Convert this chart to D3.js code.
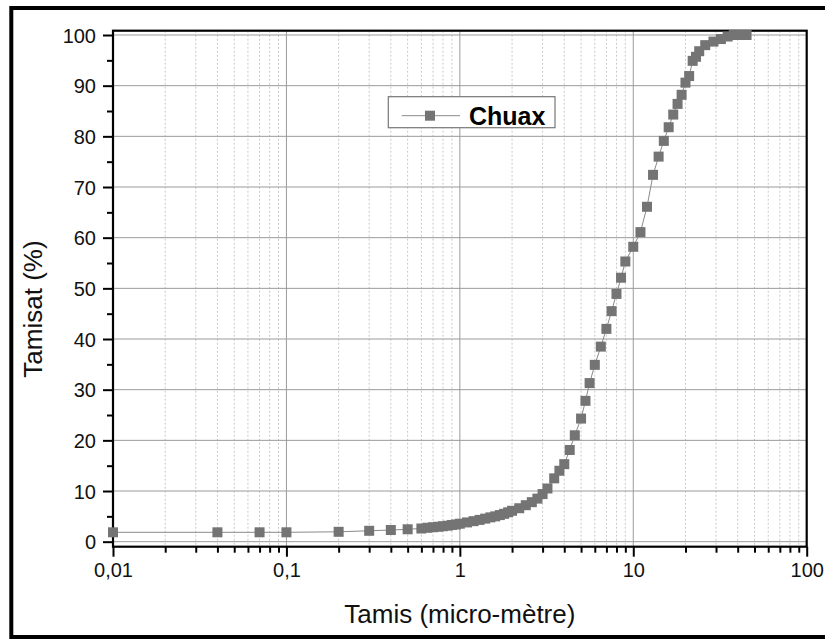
<!DOCTYPE html>
<html>
<head>
<meta charset="utf-8">
<script src="https://cdn.jsdelivr.net/npm/d3@7"></script>
<style>
  body { margin: 0; background: #fff; }
  svg { display: block; font-family: "Liberation Sans", Arial, sans-serif; }
</style>
</head>
<body>
<div id="chart"></div>
<script>
// particle size (micro-metre) and cumulative passing (%)
const tamis = [0.01, 0.04, 0.07, 0.1, 0.2, 0.3, 0.4, 0.5, 0.6,
  0.65, 0.7, 0.75, 0.8, 0.85, 0.9, 0.95, 1.0,
  1.1, 1.2, 1.3, 1.4, 1.5, 1.6, 1.7, 1.8, 1.9, 2.0,
  2.2, 2.4, 2.6, 2.8, 3.0, 3.2, 3.5, 3.75, 4.0,
  4.3, 4.6, 5.0, 5.3, 5.6, 6.0, 6.5, 7.0, 7.5, 8.0, 8.5, 9.0,
  10, 11, 12, 13, 14, 15, 16, 17, 18, 19, 20, 21, 22, 23, 24,
  26, 29, 32, 35, 38, 41, 45];
const tamisat = [1.85, 1.85, 1.85, 1.85, 1.95, 2.15, 2.3, 2.45, 2.6,
  2.75, 2.85, 2.95, 3.05, 3.15, 3.3, 3.4, 3.55,
  3.8, 4.05, 4.3, 4.55, 4.8, 5.0, 5.25, 5.5, 5.8, 6.1,
  6.6, 7.2, 7.8, 8.5, 9.4, 10.5, 12.5, 14.0, 15.3,
  18.1, 21.0, 24.3, 27.8, 31.3, 34.9, 38.5, 42.0, 45.5, 48.9, 52.1, 55.3,
  58.2, 61.1, 66.1, 72.4, 76.0, 79.1, 81.8, 84.3, 86.4, 88.2, 90.6, 91.9, 94.9, 95.7, 96.8,
  98.0, 98.7, 99.2, 99.7, 100, 100, 100];

const xMajor = [0.01, 0.1, 1, 10, 100];
const xLabels = ["0,01", "0,1", "1", "10", "100"];
const yMajor = [0, 10, 20, 30, 40, 50, 60, 70, 80, 90, 100];
const yMinor = [5, 15, 25, 35, 45, 55, 65, 75, 85, 95];
const serieName = "Chuax";

const W = 825, H = 639;
const pLeft = 113, pTop = 30.7, pRight = 806.7, pBottom = 546.7;

const svg = d3.select("#chart").append("svg")
  .attr("width", W).attr("height", H);

// outer frame
svg.append("rect")
  .attr("x", 11.3).attr("y", 8)
  .attr("width", 830).attr("height", 629)
  .attr("fill", "none").attr("stroke", "#000").attr("stroke-width", 4);

const x = d3.scaleLog([0.01, 100], [pLeft, pRight]);
const y = d3.scaleLinear([-0.99, 100.85], [pBottom, pTop]);

const xMinor = [];
[0.01, 0.1, 1, 10].forEach((d) => {
  for (let k = 2; k <= 9; k++) xMinor.push(d * k);
});

const grid = svg.append("g");
grid.selectAll("line.minx")
  .data(xMinor)
  .join("line")
  .attr("x1", (d) => x(d)).attr("x2", (d) => x(d))
  .attr("y1", pTop).attr("y2", pBottom)
  .attr("stroke", "#c8c8c8").attr("stroke-dasharray", "2,2");
grid.selectAll("line.majx")
  .data(xMajor.slice(1, -1))
  .join("line")
  .attr("x1", (d) => x(d)).attr("x2", (d) => x(d))
  .attr("y1", pTop).attr("y2", pBottom)
  .attr("stroke", "#9a9a9a");
grid.selectAll("line.majy")
  .data(yMajor)
  .join("line")
  .attr("x1", pLeft).attr("x2", pRight)
  .attr("y1", (d) => y(d)).attr("y2", (d) => y(d))
  .attr("stroke", "#9a9a9a");

// axes
const xAxis = svg.append("g")
  .attr("transform", `translate(0,${pBottom})`)
  .call(d3.axisBottom(x).tickValues(xMajor).tickFormat((d, i) => xLabels[i])
    .tickSize(10).tickPadding(6));
svg.append("g")
  .attr("transform", `translate(0,${pBottom})`)
  .call(d3.axisBottom(x).tickValues(xMinor).tickFormat("").tickSize(6));

const yAxis = svg.append("g")
  .attr("transform", `translate(${pLeft},0)`)
  .call(d3.axisLeft(y).tickValues(yMajor).tickSize(10).tickPadding(7));
svg.append("g")
  .attr("transform", `translate(${pLeft},0)`)
  .call(d3.axisLeft(y).tickValues(yMinor).tickFormat("").tickSize(6));

svg.selectAll(".tick line").attr("stroke", "#000").attr("stroke-width", 2);
svg.selectAll(".domain").remove();
xAxis.selectAll("text").attr("font-size", 20).attr("fill", "#111")
  .attr("font-family", "Liberation Sans, Arial, sans-serif");
yAxis.selectAll("text").attr("font-size", 20).attr("fill", "#111")
  .attr("font-family", "Liberation Sans, Arial, sans-serif")
  .attr("dy", "0.36em");

// plot box
svg.append("rect")
  .attr("x", pLeft).attr("y", pTop)
  .attr("width", pRight - pLeft).attr("height", pBottom - pTop)
  .attr("fill", "none").attr("stroke", "#000").attr("stroke-width", 2.2);

// data
const pts = tamis.map((d, i) => ({ x: d, y: tamisat[i] }));
const plot = svg.append("g");
plot.append("path")
  .datum(pts)
  .attr("d", d3.line().x((d) => x(d.x)).y((d) => y(d.y)))
  .attr("fill", "none").attr("stroke", "#8a8a8a").attr("stroke-width", 1);
const s = 10;
plot.selectAll("rect.pt")
  .data(pts)
  .join("rect")
  .attr("x", (d) => x(d.x) - s / 2)
  .attr("y", (d) => y(d.y) - s / 2)
  .attr("width", s).attr("height", s)
  .attr("fill", "#747474");

// legend
const lg = svg.append("g");
lg.append("rect")
  .attr("x", 388.3).attr("y", 96.7).attr("width", 166.7).attr("height", 31)
  .attr("fill", "#fff").attr("stroke", "#777").attr("stroke-width", 1.2);
lg.append("line")
  .attr("x1", 401.7).attr("x2", 460).attr("y1", 115.7).attr("y2", 115.7)
  .attr("stroke", "#8a8a8a");
lg.append("rect")
  .attr("x", 430 - s / 2).attr("y", 115.7 - s / 2).attr("width", s).attr("height", s)
  .attr("fill", "#747474");
lg.append("text")
  .attr("x", 469).attr("y", 124.5)
  .attr("font-size", 25).attr("font-weight", "bold").attr("fill", "#000")
  .text(serieName);

// axis titles
svg.append("text")
  .attr("x", (pLeft + pRight) / 2).attr("y", 623)
  .attr("text-anchor", "middle").attr("font-size", 26).attr("fill", "#111")
  .text("Tamis (micro-mètre)");
svg.append("text")
  .attr("transform", "translate(42,309) rotate(-90)")
  .attr("text-anchor", "middle").attr("font-size", 26).attr("fill", "#111")
  .text("Tamisat (%)");
</script>
</body>
</html>
